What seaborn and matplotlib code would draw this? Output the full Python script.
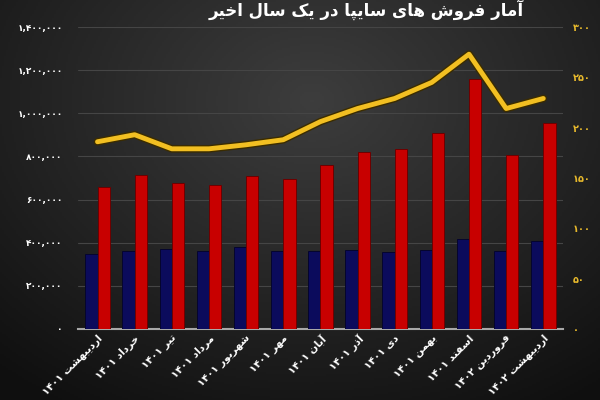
import numpy as np
import pandas as pd
import matplotlib
matplotlib.use("Agg")
import matplotlib.pyplot as plt
import matplotlib.patheffects as pe
from matplotlib.ticker import FuncFormatter, MultipleLocator
import seaborn as sns

# ---------------- data ----------------
months = ["اردیبهشت ۱۴۰۱", "خرداد ۱۴۰۱", "تیر ۱۴۰۱", "مرداد ۱۴۰۱", "شهریور ۱۴۰۱",
          "مهر ۱۴۰۱", "آبان ۱۴۰۱", "آذر ۱۴۰۱", "دی ۱۴۰۱", "بهمن ۱۴۰۱",
          "اسفند ۱۴۰۱", "فروردین ۱۴۰۲", "اردیبهشت ۱۴۰۲"]
blue_values = [348000, 363000, 370000, 363000, 380000, 363000, 363000,
               366000, 357000, 366000, 416000, 362000, 408000]
red_values = [660000, 715000, 675000, 668000, 711000, 694000, 759000,
              822000, 833000, 910000, 1158000, 807000, 954000]
line_values = [186, 193, 179, 179, 183, 188, 206, 219, 229, 245, 273, 219, 229]
title_text = "آمار فروش های سایپا در یک سال اخیر"

# ------------- Persian shaping (matplotlib has no complex text layout) -------------
FORMS = {
    '\u0622': ('\uFE81', '\uFE82', None, None),
    '\u0627': ('\uFE8D', '\uFE8E', None, None),
    '\u0628': ('\uFE8F', '\uFE90', '\uFE91', '\uFE92'),
    '\u067E': ('\uFB56', '\uFB57', '\uFB58', '\uFB59'),
    '\u062A': ('\uFE95', '\uFE96', '\uFE97', '\uFE98'),
    '\u062E': ('\uFEA5', '\uFEA6', '\uFEA7', '\uFEA8'),
    '\u062F': ('\uFEA9', '\uFEAA', None, None),
    '\u0630': ('\uFEAB', '\uFEAC', None, None),
    '\u0631': ('\uFEAD', '\uFEAE', None, None),
    '\u0632': ('\uFEAF', '\uFEB0', None, None),
    '\u0633': ('\uFEB1', '\uFEB2', '\uFEB3', '\uFEB4'),
    '\u0634': ('\uFEB5', '\uFEB6', '\uFEB7', '\uFEB8'),
    '\u0641': ('\uFED1', '\uFED2', '\uFED3', '\uFED4'),
    '\u06A9': ('\uFB8E', '\uFB8F', '\uFB90', '\uFB91'),
    '\u0644': ('\uFEDD', '\uFEDE', '\uFEDF', '\uFEE0'),
    '\u0645': ('\uFEE1', '\uFEE2', '\uFEE3', '\uFEE4'),
    '\u0646': ('\uFEE5', '\uFEE6', '\uFEE7', '\uFEE8'),
    '\u0647': ('\uFEE9', '\uFEEA', '\uFEEB', '\uFEEC'),
    '\u0648': ('\uFEED', '\uFEEE', None, None),
    '\u06CC': ('\uFBFC', '\uFBFD', '\uFBFE', '\uFBFF'),
}


def shape_word(w):
    out = []
    n = len(w)
    for i, ch in enumerate(w):
        if ch not in FORMS:
            out.append(ch)
            continue
        prev = w[i - 1] if i > 0 else None
        nxt = w[i + 1] if i < n - 1 else None
        jp = prev in FORMS and FORMS[prev][2] is not None
        jn = FORMS[ch][2] is not None and nxt in FORMS
        iso, fin, ini, med = FORMS[ch]
        if jp and jn:
            out.append(med)
        elif jp:
            out.append(fin)
        elif jn:
            out.append(ini)
        else:
            out.append(iso)
    return "".join(out)


def fa(text):
    words = text.split(" ")
    vis = []
    for w in reversed(words):
        if any(c in FORMS for c in w):
            vis.append(shape_word(w)[::-1])
        else:
            vis.append(w)
    return " ".join(vis)


PD = str.maketrans("0123456789", "۰۱۲۳۴۵۶۷۸۹")


def fa_num(v, pos=None):
    return f"{int(round(v)):,}".translate(PD)


# ---------------- figure ----------------
sns.set_theme(style="dark")
plt.rcParams['font.family'] = ['DejaVu Sans']

fig = plt.figure(figsize=(6, 4), dpi=100)

# dark radial gradient background
bg = fig.add_axes([0, 0, 1, 1], zorder=-10)
yy, xx = np.mgrid[0:1:200j, 0:1:300j]
r = np.sqrt(((xx - 0.52) / 0.75) ** 2 + ((yy - 0.25) / 0.85) ** 2)
val = np.clip(0.24 - 0.17 * r, 0.06, 0.24)
bg.imshow(np.dstack([val, val, val]), extent=[0, 1, 0, 1], aspect="auto",
          origin="upper")
bg.set_axis_off()

ax = fig.add_axes([0.13, 0.1775, 0.808, 0.755])
ax.patch.set_alpha(0)

df = pd.DataFrame({
    "month": months * 2,
    "value": blue_values + red_values,
    "series": ["blue"] * len(months) + ["red"] * len(months),
})
sns.barplot(data=df, x="month", y="value", hue="series", order=months,
            palette={"blue": "#0b0b5c", "red": "#c80000"}, width=0.66,
            saturation=1, ax=ax, legend=False, zorder=3)
for p in ax.patches:
    fc = p.get_facecolor()
    p.set_edgecolor("#6e0000" if fc[0] > 0.5 else "#05052e")
    p.set_linewidth(0.7)

ax.set_ylim(0, 1400000)
ax.set_xlim(-0.525, len(months) - 1 + 0.525)
ax.yaxis.set_major_locator(MultipleLocator(200000))
ax.yaxis.set_major_formatter(FuncFormatter(fa_num))
ax.grid(axis="y", color="#454545", linewidth=0.8, zorder=0)
ax.grid(axis="x", visible=False)
for s in ["top", "right", "left"]:
    ax.spines[s].set_visible(False)
ax.spines["bottom"].set_color("#a8a8a8")
ax.spines["bottom"].set_linewidth(1.5)
ax.set_xlabel("")
ax.set_ylabel("")
ax.tick_params(axis="y", colors="white", labelsize=6.5, length=0, pad=11)
ax.tick_params(axis="x", colors="white", length=0, pad=3)
ax.set_xticks(range(len(months)))
ax.set_xticklabels([fa(m) for m in months], rotation=45, ha="right",
                   rotation_mode="anchor", fontsize=7.5, fontweight="bold",
                   color="white")
for t in ax.get_yticklabels():
    t.set_fontweight("bold")

ax2 = ax.twinx()
ax2.set_ylim(0, 300)
sns.lineplot(x=np.arange(len(months)), y=line_values, ax=ax2, color="#f2bf22",
             linewidth=3.5, zorder=5,
             path_effects=[pe.Stroke(linewidth=5.5, foreground="#3b2c00"), pe.Normal()])
ax2.yaxis.set_major_locator(MultipleLocator(50))
ax2.yaxis.set_major_formatter(FuncFormatter(fa_num))
ax2.tick_params(axis="y", colors="#e6b82c", labelsize=7, length=0, pad=7)
for t in ax2.get_yticklabels():
    t.set_fontweight("bold")
ax2.grid(False)
for s in ["top", "right", "left", "bottom"]:
    ax2.spines[s].set_visible(False)
ax2.set_ylabel("")

fig.text(0.61, 0.975, fa(title_text), color="white", fontsize=12,
         fontweight="bold", ha="center", va="center")

fig.savefig("out.png", dpi=100)
